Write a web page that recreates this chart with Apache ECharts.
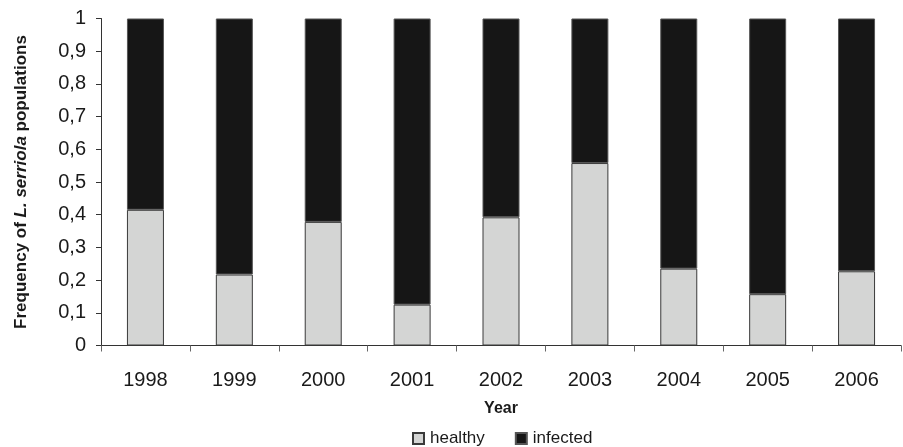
<!DOCTYPE html>
<html>
<head>
<meta charset="utf-8">
<script src="https://cdn.jsdelivr.net/npm/echarts@6/dist/echarts.min.js"></script>
<style>html,body{margin:0;padding:0;background:#fff}#c{width:903px;height:447px}</style>
</head>
<body>
<div id="c"></div>
<script>
const years = ['1998','1999','2000','2001','2002','2003','2004','2005','2006'];
const healthy = [0.415, 0.217, 0.378, 0.125, 0.392, 0.558, 0.235, 0.157, 0.227];
const infected = [0.585, 0.783, 0.622, 0.875, 0.608, 0.442, 0.765, 0.843, 0.773];
const yTicks = [0, 0.1, 0.2, 0.3, 0.4, 0.5, 0.6, 0.7, 0.8, 0.9, 1];

const FONT = '"Liberation Sans", Arial, sans-serif';
const chart = echarts.init(document.getElementById('c'), null, {renderer: 'canvas'});
chart.setOption({
  animation: false,
  backgroundColor: '#fff',
  textStyle: {fontFamily: FONT, color: '#1a1a1a'},
  grid: {left: 101, top: 18.5, width: 800, height: 327, containLabel: false},
  legend: {
    left: 407, top: 425,
    itemWidth: 11, itemHeight: 11, itemGap: 30,
    textStyle: {fontFamily: FONT, fontSize: 17, color: '#1a1a1a', padding: [0,0,0,1]},
    data: [{name: 'healthy', icon: 'rect'}, {name: 'infected', icon: 'rect'}]
  },
  xAxis: {
    type: 'category', data: years,
    name: 'Year', nameLocation: 'middle', nameGap: 55,
    nameTextStyle: {fontFamily: FONT, fontSize: 16, fontWeight: 'bold', color: '#1a1a1a'},
    axisLine: {lineStyle: {color: '#333', width: 1}},
    axisTick: {show: true, length: 6, inside: false, lineStyle: {color: '#666'}},
    axisLabel: {fontFamily: FONT, fontSize: 20, color: '#1a1a1a', margin: 25},
    splitLine: {show: false}
  },
  yAxis: {
    type: 'value', min: 0, max: 1, interval: 0.1,
    name: 'Frequency of {i|L. serriola} populations',
    nameLocation: 'middle', nameRotate: 90, nameGap: 71,
    nameTextStyle: {fontFamily: FONT, fontSize: 17, fontWeight: 'bold', color: '#1a1a1a',
      rich: {i: {fontFamily: FONT, fontSize: 17, fontWeight: 'bold', fontStyle: 'italic', color: '#1a1a1a'}}},
    axisLine: {show: true, lineStyle: {color: '#333', width: 1}},
    axisTick: {show: true, length: 5, lineStyle: {color: '#333'}},
    axisLabel: {fontFamily: FONT, fontSize: 20, color: '#1a1a1a', margin: 15,
      formatter: v => {
        const t = yTicks.find(x => Math.abs(x - v) < 1e-6);
        const val = t === undefined ? v : t;
        return String(Math.round(val * 10) / 10).replace('.', ',');
      }},
    splitLine: {show: false}
  },
  series: [
    {name: 'healthy', type: 'bar', stack: 's', data: healthy, barWidth: 37,
     itemStyle: {color: '#d4d5d4', borderColor: '#3a3a3a', borderWidth: 1}},
    {name: 'infected', type: 'bar', stack: 's', data: infected, barWidth: 37,
     itemStyle: {color: '#161616', borderColor: '#555', borderWidth: 1}}
  ]
});
</script>
</body>
</html>
